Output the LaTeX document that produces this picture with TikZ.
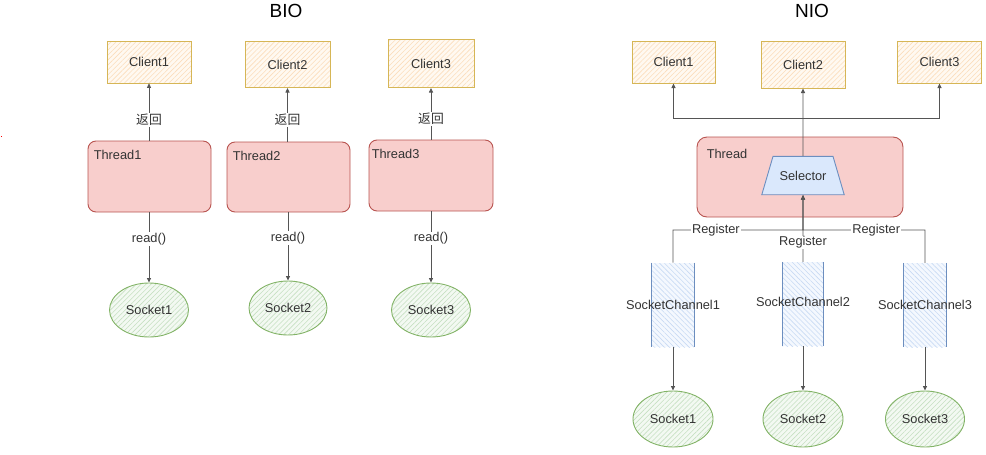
\documentclass[tikz,border=0pt]{standalone}
\usepackage{fontspec}
\setmainfont{Liberation Sans}
\newfontfamily\cjk{Noto Sans CJK SC}
\usetikzlibrary{shapes.geometric,patterns.meta,arrows.meta}
\definecolor{txt}{HTML}{333333}
\definecolor{linec}{HTML}{555555}
\definecolor{clStroke}{HTML}{D6B656}
\definecolor{clFill}{HTML}{FFF9F1}
\definecolor{clHatch}{HTML}{FBDDBB}
\definecolor{thStroke}{HTML}{B85450}
\definecolor{thFill}{HTML}{F8CECC}
\definecolor{bStroke}{HTML}{6C8EBF}
\definecolor{bFill}{HTML}{DAE8FC}
\definecolor{chFill}{HTML}{F4F8FE}
\definecolor{chHatch}{HTML}{C8DAF4}
\definecolor{gStroke}{HTML}{82B366}
\definecolor{gFill}{HTML}{F3F9F2}
\definecolor{gHatch}{HTML}{C6E0C2}
\begin{document}
\begin{tikzpicture}[x=1pt,y=-1pt,
  every node/.style={font=\fontsize{12.8}{15}\selectfont, text=txt},
  client/.style={draw=clStroke, line width=1pt, preaction={fill=clFill},
    pattern={Lines[angle=45,distance=3.5pt,line width=0.6pt]}, pattern color=clHatch,
    minimum width=84pt, minimum height=42pt, inner sep=0pt},
  threadbox/.style={draw=thStroke, line width=0.9pt, fill=thFill, rounded corners=8pt,
    minimum width=123pt, minimum height=71pt, inner sep=0pt},
  sock/.style={ellipse, draw=gStroke, line width=0.9pt, preaction={fill=gFill},
    pattern={Lines[angle=45,distance=3.5pt,line width=0.6pt]}, pattern color=gHatch,
    minimum width=79pt, minimum height=54pt, inner sep=0pt},
  chan/.style={preaction={fill=chFill},
    pattern={Lines[angle=-45,distance=3.5pt,line width=0.6pt]}, pattern color=chHatch,
    minimum width=42pt, minimum height=84pt, inner sep=0pt},
  chside/.style={draw=bStroke, line width=1pt},
  arr/.style={draw=linec, line width=0.8pt, -{Triangle[length=4.5pt,width=4pt]}},
  lbl/.style={fill=white, inner sep=1pt, text=txt},
  title/.style={font=\fontsize{19}{22}\selectfont, text=black},
  tlabel/.style={anchor=north west, inner sep=0pt, font=\fontsize{12.8}{15}\selectfont, text=txt}
]
\useasboundingbox (0,0) rectangle (986,455);
\fill[red] (0.5,135.5) rectangle (2,137);

% ---------- BIO ----------
\node[title] (tbio) at (286,11) {BIO};
\node[client] (c1) at (149,62) {Client1};
\node[client, minimum width=85pt, minimum height=46pt] (c2) at (287.5,64.5) {Client2};
\node[client, minimum width=86pt, minimum height=48pt] (c3) at (431,63.5) {Client3};

\node[threadbox] (t1) at (149.5,176.5) {};
\node[threadbox, minimum height=70pt] (t2) at (288.5,177) {};
\node[threadbox, minimum width=124pt] (t3) at (431,175.5) {};
\node[tlabel] (t1l) at ([xshift=6pt,yshift=-9pt]t1.north west) {Thread1};
\node[tlabel] (t2l) at ([xshift=6pt,yshift=-9pt]t2.north west) {Thread2};
\node[tlabel] (t3l) at ([xshift=3pt,yshift=-9pt]t3.north west) {Thread3};

\node[sock] (s1) at (149,310) {Socket1};
\node[sock, minimum width=78pt] (s2) at (288,308) {Socket2};
\node[sock] (s3) at (431,310) {Socket3};

\draw[arr] (t1.north -| c1.south) -- node[lbl, pos=0.36] {\cjk 返回} (c1.south);
\draw[arr] (t2.north -| c2.south) -- node[lbl, pos=0.40] {\cjk 返回} (c2.south);
\draw[arr] (t3.north -| c3.south) -- node[lbl, pos=0.40] {\cjk 返回} (c3.south);

\draw[arr] (t1.south -| s1.north) -- node[lbl, pos=0.38] {read()} (s1.north);
\draw[arr] (t2.south -| s2.north) -- node[lbl, pos=0.38] {read()} (s2.north);
\draw[arr] (t3.south -| s3.north) -- node[lbl, pos=0.38] {read()} (s3.north);

% ---------- NIO ----------
\node[title] (tnio) at (812,11) {NIO};
\node[client, minimum width=83pt] (n1) at (673.5,62) {Client1};
\node[client, minimum width=84pt, minimum height=47pt] (n2) at (803,64.5) {Client2};
\node[client] (n3) at (939.5,62) {Client3};

\node[threadbox, minimum width=206pt, minimum height=80pt, rounded corners=10pt] (th) at (800,177) {};
\node[tlabel] (thl) at ([xshift=10pt,yshift=-12pt]th.north west) {Thread};

\node[trapezium, trapezium angle=73.7,
      draw=bStroke, line width=0.9pt, fill=bFill,
      inner xsep=6.5pt, inner ysep=14.5pt] (sel) at (803,175.5) {Selector};

\node[chan] (sc1) at (673,305) {};
\node[chan, minimum width=41pt] (sc2) at (803,304) {};
\node[chan] (sc3) at (925,305) {};
\draw[chside] (sc1.north west) -- (sc1.south west) (sc1.north east) -- (sc1.south east);
\draw[chside] (sc2.north west) -- (sc2.south west) (sc2.north east) -- (sc2.south east);
\draw[chside] (sc3.north west) -- (sc3.south west) (sc3.north east) -- (sc3.south east);
\node (sc1t) at (sc1.center) {SocketChannel1};
\node (sc2t) at ([yshift=2pt]sc2.center) {SocketChannel2};
\node (sc3t) at (sc3.center) {SocketChannel3};

\node[sock, minimum width=80pt, minimum height=56pt] (ns1) at (673,419) {Socket1};
\node[sock, minimum width=80pt, minimum height=56pt] (ns2) at (803,419) {Socket2};
\node[sock, minimum height=56pt] (ns3) at (925,419) {Socket3};

% selector to clients
\coordinate (jn) at (803,118);
\draw[arr] (sel.north) -- (n2.south);
\draw[arr] (jn) -| (n1.south);
\draw[arr] (jn) -| (n3.south);

% register edges
\coordinate (rg) at (803,230);
\draw[arr] (sc1.north) |- node[lbl, pos=0.665] {Register} (rg) -- (sel.south);
\draw[arr] (sc3.north) |- node[lbl, pos=0.70] {Register} (rg) -- (sel.south);
\draw[arr] (sc2.north) -- node[lbl, pos=0.29] {Register} (sel.south);

% channels to sockets
\draw[arr] (sc1.south) -- (ns1.north);
\draw[arr] (sc2.south) -- (ns2.north);
\draw[arr] (sc3.south) -- (ns3.north);
\end{tikzpicture}
\end{document}
